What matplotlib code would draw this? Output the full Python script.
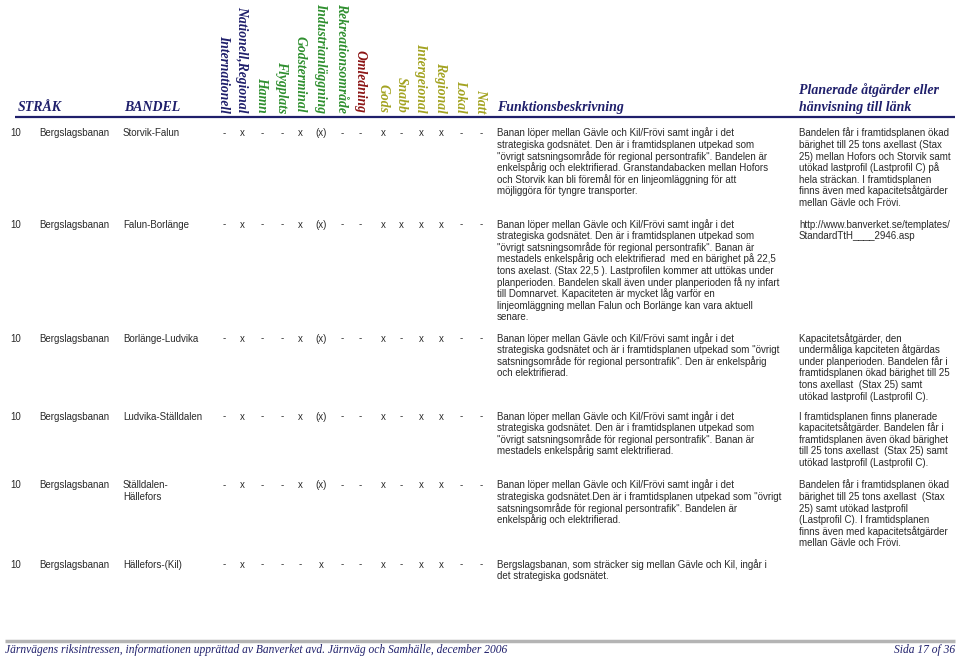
import matplotlib.pyplot as plt

# --- tabelldata ---
strak_nr = ['10', '10', '10', '10', '10', '10']
strak_namn = ['Bergslagsbanan'] * 6
bandel = ['Storvik-Falun', 'Falun-Borlänge', 'Borlänge-Ludvika',
          'Ludvika-Ställdalen', 'Ställdalen-\nHällefors', 'Hällefors-(Kil)']

kolumner = ['Internationell', 'Nationell,Regional', 'Hamn', 'Flygplats',
            'Godsterminal', 'Industrianläggning', 'Rekreationsområde',
            'Omledning', 'Gods', 'Snabb', 'Intergeional', 'Regional',
            'Lokal', 'Natt']
kolumn_grupp = ['nat', 'nat', 'anl', 'anl', 'anl', 'anl', 'anl',
                'oml', 'typ', 'typ', 'typ', 'typ', 'typ', 'typ']

flaggor = [
    ['-', 'x', '-', '-', 'x', '(x)', '-', '-', 'x', '-', 'x', 'x', '-', '-'],
    ['-', 'x', '-', '-', 'x', '(x)', '-', '-', 'x', 'x', 'x', 'x', '-', '-'],
    ['-', 'x', '-', '-', 'x', '(x)', '-', '-', 'x', '-', 'x', 'x', '-', '-'],
    ['-', 'x', '-', '-', 'x', '(x)', '-', '-', 'x', '-', 'x', 'x', '-', '-'],
    ['-', 'x', '-', '-', 'x', '(x)', '-', '-', 'x', '-', 'x', 'x', '-', '-'],
    ['-', 'x', '-', '-', '-', 'x', '-', '-', 'x', '-', 'x', 'x', '-', '-'],
]

beskrivning = [
    ['Banan löper mellan Gävle och Kil/Frövi samt ingår i det',
     'strategiska godsnätet. Den är i framtidsplanen utpekad som',
     '"övrigt satsningsområde för regional persontrafik". Bandelen är',
     'enkelspårig och elektrifierad. Granstandabacken mellan Hofors',
     'och Storvik kan bli föremål för en linjeomläggning för att',
     'möjliggöra för tyngre transporter.'],
    ['Banan löper mellan Gävle och Kil/Frövi samt ingår i det',
     'strategiska godsnätet. Den är i framtidsplanen utpekad som',
     '"övrigt satsningsområde för regional persontrafik". Banan är',
     'mestadels enkelspårig och elektrifierad  med en bärighet på 22,5',
     'tons axelast. (Stax 22,5 ). Lastprofilen kommer att uttökas under',
     'planperioden. Bandelen skall även under planperioden få ny infart',
     'till Domnarvet. Kapaciteten är mycket låg varför en',
     'linjeomläggning mellan Falun och Borlänge kan vara aktuell',
     'senare.'],
    ['Banan löper mellan Gävle och Kil/Frövi samt ingår i det',
     'strategiska godsnätet och är i framtidsplanen utpekad som "övrigt',
     'satsningsområde för regional persontrafik". Den är enkelspårig',
     'och elektrifierad.'],
    ['Banan löper mellan Gävle och Kil/Frövi samt ingår i det',
     'strategiska godsnätet. Den är i framtidsplanen utpekad som',
     '"övrigt satsningsområde för regional persontrafik". Banan är',
     'mestadels enkelspårig samt elektrifierad.'],
    ['Banan löper mellan Gävle och Kil/Frövi samt ingår i det',
     'strategiska godsnätet.Den är i framtidsplanen utpekad som "övrigt',
     'satsningsområde för regional persontrafik". Bandelen är',
     'enkelspårig och elektrifierad.'],
    ['Bergslagsbanan, som sträcker sig mellan Gävle och Kil, ingår i',
     'det strategiska godsnätet.'],
]

atgarder = [
    ['Bandelen får i framtidsplanen ökad',
     'bärighet till 25 tons axellast (Stax',
     '25) mellan Hofors och Storvik samt',
     'utökad lastprofil (Lastprofil C) på',
     'hela sträckan. I framtidsplanen',
     'finns även med kapacitetsåtgärder',
     'mellan Gävle och Frövi.'],
    ['http://www.banverket.se/templates/',
     'StandardTtH____2946.asp'],
    ['Kapacitetsåtgärder, den',
     'undermåliga kapciteten åtgärdas',
     'under planperioden. Bandelen får i',
     'framtidsplanen ökad bärighet till 25',
     'tons axellast  (Stax 25) samt',
     'utökad lastprofil (Lastprofil C).'],
    ['I framtidsplanen finns planerade',
     'kapacitetsåtgärder. Bandelen får i',
     'framtidsplanen även ökad bärighet',
     'till 25 tons axellast  (Stax 25) samt',
     'utökad lastprofil (Lastprofil C).'],
    ['Bandelen får i framtidsplanen ökad',
     'bärighet till 25 tons axellast  (Stax',
     '25) samt utökad lastprofil',
     '(Lastprofil C). I framtidsplanen',
     'finns även med kapacitetsåtgärder',
     'mellan Gävle och Frövi.'],
    [],
]

sidfot = 'Järnvägens riksintressen, informationen upprättad av Banverket avd. Järnväg och Samhälle, december 2006'
sidnr = 'Sida 17 of 36'

# --- layout (pixlar) ---
navy = '#1f1f6b'
farger = {'nat': navy, 'anl': '#2f8f2f', 'oml': '#8b1414', 'typ': '#a3a321'}
kol_x = [224, 242, 262, 282, 300, 321, 342, 360, 383, 401, 421, 441, 461, 481]
rad_y = [133, 224, 338, 416, 485, 564]
radavst = 11.6
serif = 'Liberation Serif'
sans = 'Liberation Sans'
fs = 7
textfarg = '#2a2a2a'

fig = plt.figure(figsize=(9.6, 6.59), dpi=100)
ax = fig.add_axes([0, 0, 1, 1])
ax.set_xlim(0, 960)
ax.set_ylim(659, 0)
ax.axis('off')

hdr = dict(family=serif, weight='bold', style='italic', color=navy, fontsize=10)
ax.text(18, 111, 'STRÅK', va='baseline', ha='left', **hdr)
ax.text(124, 111, 'BANDEL', va='baseline', ha='left', **hdr)
ax.text(497, 111, 'Funktionsbeskrivning', va='baseline', ha='left', **hdr)
ax.text(799, 94, 'Planerade åtgärder eller', va='baseline', ha='left', **hdr)
ax.text(799, 111, 'hänvisning till länk', va='baseline', ha='left', **hdr)

for x, namn, grp in zip(kol_x, kolumner, kolumn_grupp):
    ax.text(x, 113, namn, rotation=-90, ha='center', va='bottom',
            family=serif, weight='bold', style='italic', fontsize=9.8,
            color=farger[grp])

ax.plot([15, 955], [117, 117], color=navy, lw=1.6, solid_capstyle='butt')

def rader(x, y0, lines):
    for i, s in enumerate(lines):
        ax.text(x, y0 + i * radavst + 3.5, s, va='baseline', ha='left',
                family=sans, fontsize=fs, color=textfarg)

for r, y in enumerate(rad_y):
    rader(10, y, [strak_nr[r]])
    rader(39, y, [strak_namn[r]])
    rader(123, y, bandel[r].split('\n'))
    for x, f in zip(kol_x, flaggor[r]):
        ax.text(x, y + 3.5, f, va='baseline', ha='center',
                family=sans, fontsize=fs, color=textfarg)
    rader(497, y, beskrivning[r])
    rader(799, y, atgarder[r])

ax.plot([5, 955], [641, 641], color='#b4b4b4', lw=2.5, solid_capstyle='butt')
ax.text(5, 653, sidfot, va='baseline', ha='left', family=serif,
        style='italic', fontsize=8.3, color=navy)
ax.text(955, 653, sidnr, va='baseline', ha='right', family=serif,
        style='italic', fontsize=8.3, color=navy)

fig.savefig('out.png', dpi=100)
